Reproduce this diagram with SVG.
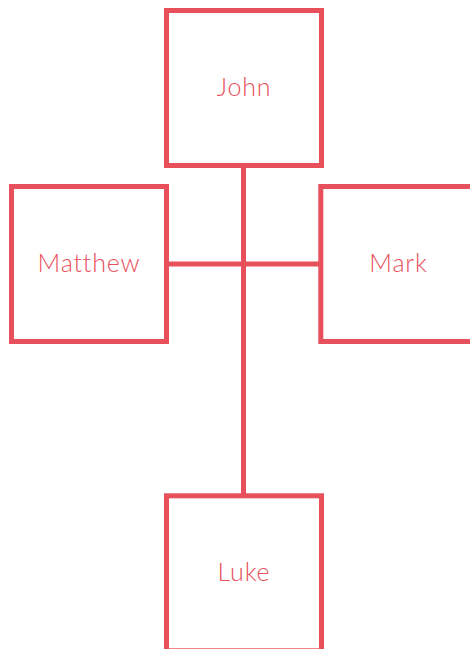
<svg xmlns="http://www.w3.org/2000/svg" width="470" height="649" viewBox="0 0 470 649">
<style>
.box{fill:#fff;stroke:#E8505B;stroke-width:5}
.lbl{fill:#E8505B;font-family:Lato,"Open Sans","Liberation Sans",sans-serif;font-size:25px;font-weight:300;letter-spacing:0.8px;text-anchor:middle}
.edge{stroke:#E8505B;stroke-width:5;fill:none}
</style>
<rect width="470" height="649" fill="#fff"/>
<g id="connectors">
<line class="edge" x1="243.5" y1="165" x2="243.5" y2="496"/>
<line class="edge" x1="166.5" y1="264" x2="321" y2="264"/>
</g>
<g id="john"><rect class="box" x="166.5" y="10.5" width="155" height="155"/><text class="lbl" x="244" y="96">John</text></g>
<g id="matthew"><rect class="box" x="11.5" y="186.5" width="155" height="155"/><text class="lbl" x="89" y="272">Matthew</text></g>
<g id="mark"><rect class="box" x="320.8" y="186.5" width="155" height="155"/><text class="lbl" x="398.5" y="272">Mark</text></g>
<g id="luke"><rect class="box" x="166.5" y="495.8" width="155" height="155"/><text class="lbl" x="244" y="581">Luke</text></g>
</svg>
